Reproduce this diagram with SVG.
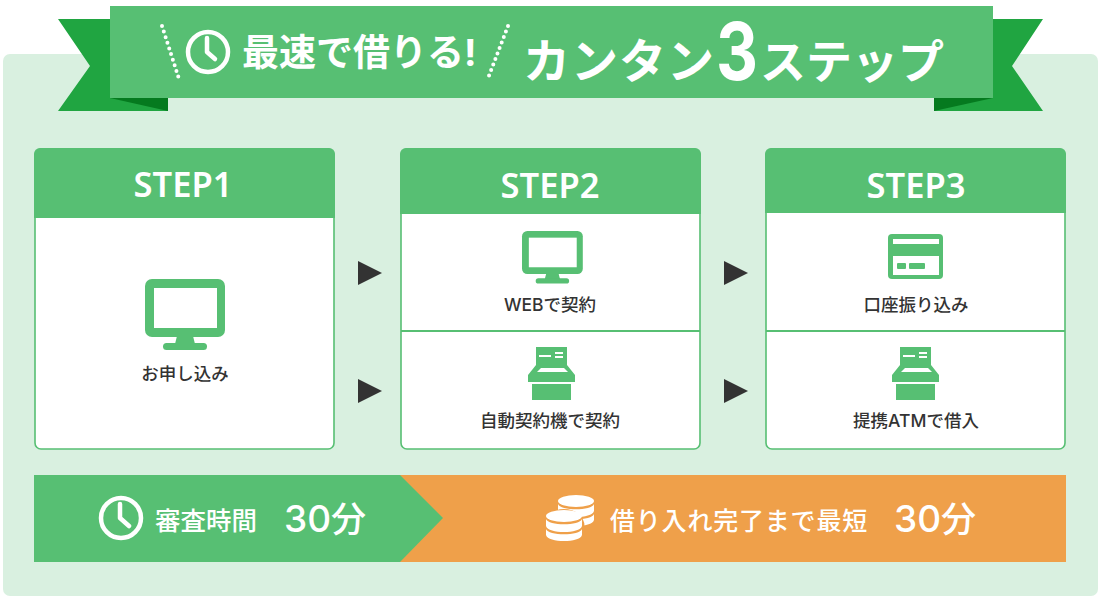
<svg xmlns="http://www.w3.org/2000/svg" width="1099" height="604" viewBox="0 0 1099 604">
<style>
text{font-family:"Inter","Noto Sans CJK JP",sans-serif}
.g{fill:#57bf73}.w{fill:#fff}.o{fill:#efa04a}
.hd{fill:#fff;font-size:34.500px;font-weight:600;text-anchor:middle;font-family:"Noto Sans",sans-serif}
.lb{fill:#333;font-size:17.500px;font-weight:500;text-anchor:middle}
.wt{fill:#fff;font-weight:500}
.clock{fill:none;stroke:#fff;stroke-width:4.500;stroke-linecap:round;stroke-linejoin:round}
.dots{fill:none;stroke:#fff;stroke-width:4;stroke-linecap:round;stroke-dasharray:0 5.900}
.card{fill:#fff;stroke:#57bf73;stroke-width:1.600}
.div{stroke:#57bf73;stroke-width:2}
.arw{fill:#333}
</style>
<defs>
<g id="atm">
<path d="M536 347H567V365L575 375V382H528V375L536 365Z" class="g"/>
<rect x="532" y="384" width="39" height="16" class="g"/>
<path d="M539 356H551M555 353H563M555 357H563" stroke="#fff" stroke-width="1.800" fill="none"/>
<path d="M541 368H564L568 372H537Z" class="w"/>
</g>
<g id="monitor">
<rect width="80" height="58" rx="7" class="g"/>
<rect x="9" y="9" width="63" height="40" class="w"/>
<path d="M32 57H48L50 65H30Z" class="g"/>
<rect x="18" y="64" width="44" height="7" rx="3.500" class="g"/>
</g>
<g id="coin">
<ellipse cx="18" cy="6" rx="18" ry="6" class="w"/>
<path d="M0 9C2 16 34 16 36 9V16C34 24 2 24 0 16Z" class="w"/>
<path d="M0 19C2 26 34 26 36 19V25C34 33 2 33 0 25Z" class="w"/>
</g>
</defs>
<rect id="panel" x="3" y="54" width="1095" height="542" rx="7" fill="#d9f0e0"/>
<g id="title">
<path d="M58 19H110V98H168V111H58L90 66Z" fill="#20a541"/>
<path d="M110 98H168V111Z" fill="#057a1f"/>
<path d="M1043 19H993V98H934V111H1043L1012 66Z" fill="#20a541"/>
<path d="M993 98H934V111Z" fill="#057a1f"/>
<rect x="110" y="6" width="883" height="92" class="g"/>
<path class="dots" d="M162 26L180 82M508 26L487 81"/>
<circle cx="208" cy="52" r="20" class="clock"/>
<path d="M207 38V52L215 59" class="clock"/>
<text class="wt" x="242" y="66" font-size="37" style="font-weight:700">最速で借りる!</text>
<text class="wt" x="523" y="78" font-size="47" letter-spacing="1" style="font-weight:700">カンタン</text>
<text class="wt" x="716" y="80" font-size="80" textLength="42" lengthAdjust="spacingAndGlyphs" style="font-weight:700">3</text>
<text class="wt" x="760" y="78" font-size="46" style="font-weight:700">ステップ</text>
</g>
<g id="step1">
<rect class="card" x="35" y="149" width="299" height="300" rx="6"/>
<path class="g" d="M34 218V154A6 6 0 0 1 40 148H329A6 6 0 0 1 335 154V218Z"/>
<text class="hd" x="183" y="197">STEP1</text>
<use href="#monitor" x="145" y="279"/>
<text class="lb" x="185" y="380">お申し込み</text>
</g>
<g id="step2">
<rect class="card" x="401" y="149" width="299" height="300" rx="6"/>
<path class="g" d="M400 214V154A6 6 0 0 1 406 148H695A6 6 0 0 1 701 154V214Z"/>
<text class="hd" x="550" y="198">STEP2</text>
<line class="div" x1="401" y1="331" x2="700" y2="331"/>
<g transform="translate(522 231) scale(.76 .74)"><use href="#monitor"/></g>
<text class="lb" x="550" y="311">WEBで契約</text>
<use href="#atm"/>
<text class="lb" x="550" y="427">自動契約機で契約</text>
</g>
<g id="step3">
<rect class="card" x="766" y="149" width="299" height="300" rx="6"/>
<path class="g" d="M765 213V154A6 6 0 0 1 771 148H1060A6 6 0 0 1 1066 154V213Z"/>
<text class="hd" x="916" y="198">STEP3</text>
<line class="div" x1="766" y1="331" x2="1065" y2="331"/>
<rect x="888" y="234" width="55" height="45" rx="4" class="g"/>
<rect x="893" y="239" width="46" height="5" class="w"/>
<rect x="893" y="256" width="46" height="19" class="w"/>
<rect x="897" y="263" width="9" height="6" rx="1" class="g"/>
<rect x="909" y="263" width="16" height="6" rx="1" class="g"/>
<text class="lb" x="916" y="311">口座振り込み</text>
<use href="#atm" x="364"/>
<text class="lb" x="916" y="427">提携ATMで借入</text>
</g>
<g id="connectors">
<path class="arw" d="M358 261L382 273L358 285Z"/>
<path class="arw" d="M358 379L382 391L358 403Z"/>
<path class="arw" d="M724 261L748 273L724 285Z"/>
<path class="arw" d="M724 379L748 391L724 403Z"/>
</g>
<g id="summary">
<rect x="34" y="475" width="1032" height="87" class="o"/>
<path d="M34 475H400L443 518L400 562H34Z" class="g"/>
<circle cx="121" cy="518" r="20" class="clock"/>
<path d="M120 504V518L129 526" class="clock"/>
<text class="wt" x="155" y="530" font-size="25.500">審査時間</text>
<text class="wt" x="284" y="532" font-size="37">30<tspan font-size="35">分</tspan></text>
<use href="#coin" x="558" y="495"/>
<ellipse cx="564" cy="526" rx="20.500" ry="17" class="o"/>
<use href="#coin" x="546" y="510"/>
<text class="wt" x="610" y="530" font-size="25" letter-spacing="0.800">借り入れ完了まで最短</text>
<text class="wt" x="894" y="532" font-size="37">30<tspan font-size="35">分</tspan></text>
</g>
</svg>
